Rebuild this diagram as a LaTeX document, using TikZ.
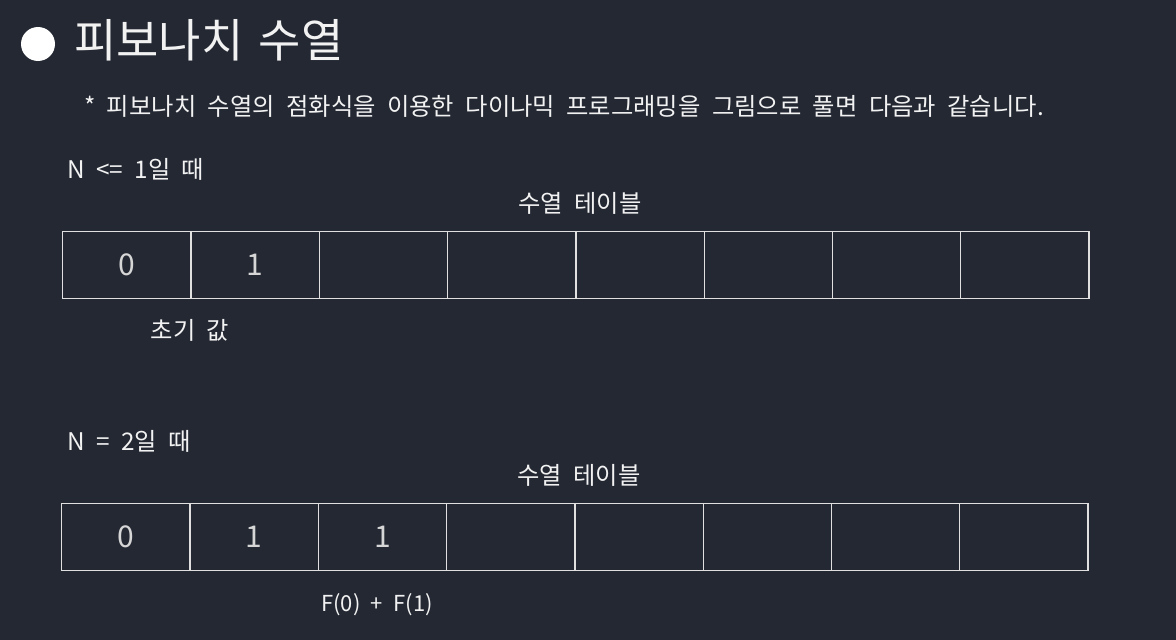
\documentclass[tikz,border=0pt]{standalone}
\usepackage{fontspec}
\setmainfont[WordSpace=2.1]{Noto Sans CJK KR}
\newfontfamily\titlefont[WordSpace=1.5]{Noto Sans CJK KR}
\definecolor{bg}{HTML}{232833}
\definecolor{fg}{HTML}{F2F2F2}
\definecolor{cellfg}{HTML}{D6D6D6}
\definecolor{linec}{HTML}{E0E0E0}
\begin{document}
\begin{tikzpicture}[x=1pt,y=-1pt,
  txt/.style={text=fg,inner sep=0pt,font=\fontsize{24.3}{28}\selectfont},
  cell/.style={draw=linec,line width=1.3pt,minimum width=128.3pt,minimum height=67pt,inner sep=0pt,text=cellfg,font=\fontsize{30}{34}\selectfont,anchor=north west}]
\fill[bg] (0,0) rectangle (1176,640);
\useasboundingbox (0,0) rectangle (1176,640);
\fill[white] (38,44) circle (17);
\node[txt,anchor=west,font=\titlefont\fontsize{46}{52}\selectfont] (title) at (74,40) {피보나치 수열};
\node[txt,anchor=west] (sub) at (84,106) {* 피보나치 수열의 점화식을 이용한 다이나믹 프로그래밍을 그림으로 풀면 다음과 같습니다.};
\node[txt,anchor=west] (n1) at (67,169) {N <= 1일 때};
\node[txt] (t1) at (580,203) {수열 테이블};
\foreach \i/\v in {0/0,1/1,2/,3/,4/,5/,6/,7/} {
  \node[cell] (a\i) at (62+\i*128.3,231) {\v};
}
\node[txt] (init) at (190,330) {초기 값};
\node[txt,anchor=west] (n2) at (67,441) {N = 2일 때};
\node[txt] (t2) at (579,475) {수열 테이블};
\foreach \i/\v in {0/0,1/1,2/1,3/,4/,5/,6/,7/} {
  \node[cell] (b\i) at (61+\i*128.3,503) {\v};
}
\node[txt,font=\fontsize{22}{26}\selectfont] (f) at (377,605) {F(0) + F(1)};
\end{tikzpicture}
\end{document}
